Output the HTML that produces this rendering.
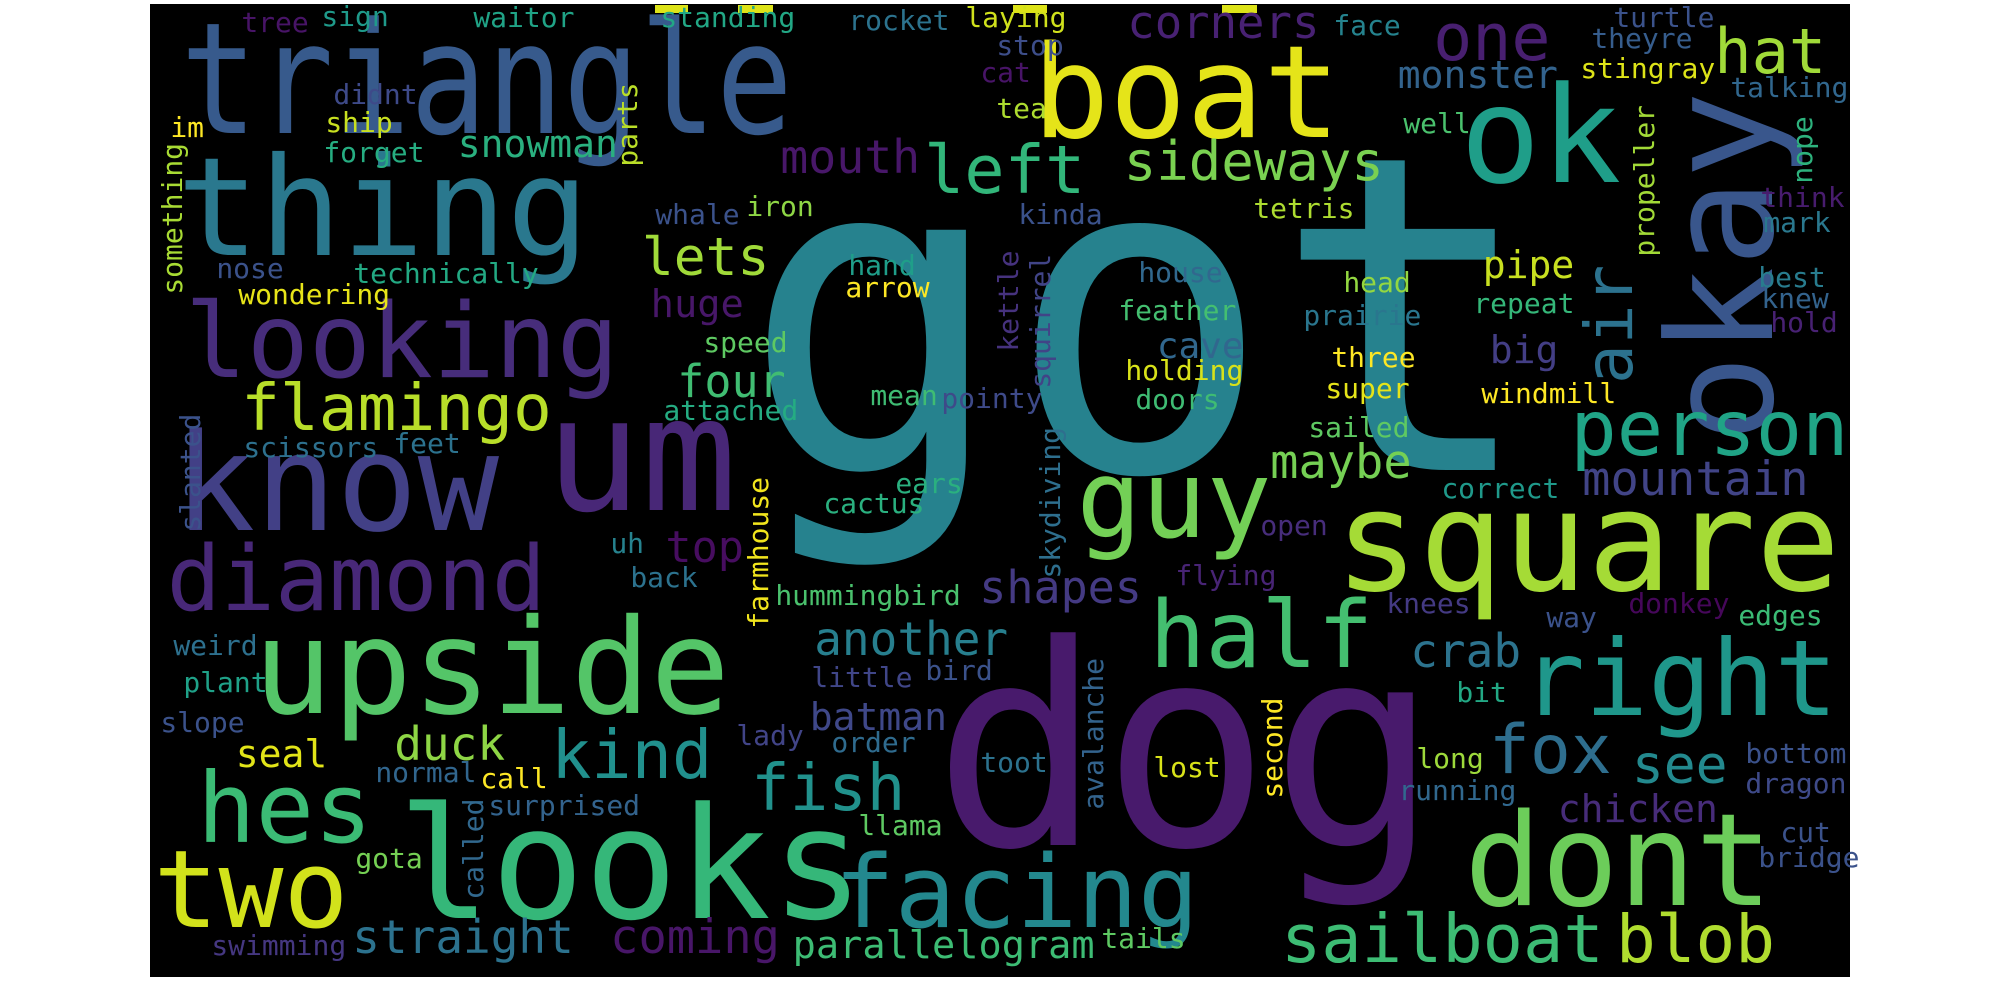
<!DOCTYPE html>
<html><head><meta charset="utf-8"><title>Word cloud</title>
<style>html,body{margin:0;padding:0;background:#fff;width:2000px;height:1000px;overflow:hidden}svg{display:block}text{font-family:"DejaVu Sans Mono","Liberation Mono",monospace}</style>
</head><body>
<svg id="cloud" width="2000" height="1000" viewBox="0 0 2000 1000" xmlns="http://www.w3.org/2000/svg">
<rect x="150" y="4" width="1700" height="973" fill="#000"/>
<g fill="#dde318">
<rect x="655" y="5" width="33" height="8"/><rect x="738" y="5" width="35" height="8"/><rect x="1013" y="5" width="34" height="8"/><rect x="1222" y="5" width="35" height="8"/>
</g>
<g id="words"></g>
</svg>
<script>
// [word, ink-left (or baseline x for vertical), baseline (or bottom y for vertical), font size, colour, vertical, textLength]
const words = [
["got",768,470,441,"#26828e"],
["dog",950,845,280,"#481a6c"],
["triangle",190,133,155,"#375a8c",0,612],
["boat",1040,137,128,"#e5e419"],
["ok",1468,182,134,"#1f9e89"],
["okay",1772,434,146,"#39568c",1],
["thing",185,255,137,"#2a788e"],
["looking",191,377,103,"#472d7b"],
["know",182,530,135,"#424086"],
["um",555,510,159,"#482777"],
["diamond",172,610,90,"#482878"],
["upside",261,713,132,"#54c568"],
["looks",407,918,155,"#35b779"],
["hes",203,842,97,"#3bbb75"],
["two",160,927,108,"#d2e21b"],
["square",1343,590,140,"#a5db36"],
["half",1155,667,93,"#44bf70"],
["right",1528,715,105,"#1f978b"],
["guy",1083,537,108,"#73d056"],
["dont",1472,905,128,"#6ccd5a"],
["facing",840,927,101,"#23888e"],
["person",1575,455,77,"#20a486"],
["air",1632,380,66,"#2c728e",1],
["sailboat",1285,962,67,"#3dbc74"],
["blob",1620,962,66,"#b0dd2f"],
["fox",1493,773,68,"#2e6e8e"],
["kind",555,778,67,"#21908d"],
["fish",755,810,64,"#21918c"],
["straight",355,953,46,"#2c728e"],
["coming",613,953,47,"#481668"],
["parallelogram",795,958,38.6,"#3dbc74"],
["flamingo",245,430,64.5,"#b8de29"],
["left",928,193,67,"#32b67a"],
["sideways",1127,180,54,"#7ad151"],
["hat",1718,73,62,"#a0da39"],
["one",1437,60,65,"#481f70"],
["corners",1130,38,45.6,"#482173"],
["mouth",783,173,46.5,"#481769"],
["lets",645,275,53,"#a0da39"],
["four",680,397,45,"#40bd72"],
["cave",1159,358,36,"#31678e"],
["pipe",1485,278,38,"#c8e020"],
["big",1492,363,38,"#433e85"],
["maybe",1273,478,47,"#75d054"],
["mountain",1585,495,47,"#414487"],
["top",668,562,43.5,"#470d60"],
["shapes",982,603,45,"#443a83"],
["another",817,655,46,"#277f8e"],
["batman",812,730,38,"#3f4889"],
["crab",1413,667,46,"#2c738e"],
["duck",397,760,46,"#8ed645"],
["seal",238,767,38,"#e2e418"],
["see",1635,783,53,"#23898e"],
["chicken",1560,822,38,"#472c7a"],
["monster",1400,88,38,"#33638d"],
["snowman",460,157,38,"#2ab07f"],
["face",1335,35,28,"#25838e"],
["standing",662,27,28,"#22a785"],
["rocket",850,30,28,"#2c738e"],
["laying",967,27,28,"#d0e11c"],
["waitor",475,27,28,"#20a386"],
["sign",323,26,28,"#1f9a8a"],
["tree",243,32,28,"#481467"],
["turtle",1615,27,28,"#3b528b"],
["theyre",1593,48,28,"#365d8d"],
["stop",998,55,28,"#3d4e8a"],
["cat",982,82,28,"#481467"],
["stingray",1582,78,28,"#dde318"],
["talking",1732,97,28,"#31678e"],
["tea",998,118,28,"#addc30"],
["well",1405,133,28,"#4ac16d"],
["parts",637,165,28,"#bade28",1],
["propeller",1654,255,28,"#a2da37",1],
["nope",1812,182,28,"#2db27d",1],
["think",1762,207,28,"#481c6e"],
["mark",1765,232,28,"#2a788e"],
["best",1760,287,28,"#287c8e"],
["knew",1763,308,28,"#33638d"],
["hold",1772,332,28,"#482173"],
["repeat",1475,313,28,"#35b779"],
["prairie",1305,325,28,"#2a768e"],
["head",1345,292,28,"#93d741"],
["three",1333,367,28,"#fde725"],
["super",1327,398,28,"#e5e419"],
["windmill",1483,403,28,"#fde725"],
["sailed",1310,437,28,"#5ec962"],
["correct",1443,498,28,"#1f998a"],
["open",1262,535,28,"#472d7b"],
["flying",1177,585,28,"#482475"],
["knees",1388,613,28,"#443a83"],
["way",1548,627,28,"#3b528b"],
["edges",1740,625,28,"#3bbb75"],
["donkey",1630,613,28,"#46075a"],
["bit",1458,702,28,"#22a884"],
["long",1418,768,28,"#9dd93b"],
["running",1400,800,28,"#31688e"],
["bottom",1747,763,28,"#3b528b"],
["dragon",1747,793,28,"#3e4a89"],
["cut",1782,842,28,"#3b528b"],
["bridge",1760,867,28,"#3b528b"],
["second",1282,797,28,"#fde725",1],
["lost",1155,777,28,"#d8e219"],
["toot",982,772,28,"#2c728e"],
["order",833,752,28,"#2f6b8e"],
["lady",738,745,28,"#414487"],
["normal",377,782,28,"#31668e"],
["call",482,788,28,"#fde725"],
["surprised",490,815,28,"#33638d"],
["called",483,898,28,"#31688e",1],
["gota",357,868,28,"#75d054"],
["llama",860,835,28,"#5ec962"],
["tails",1103,948,28,"#5ec962"],
["swimming",213,955,28,"#453781"],
["slope",162,732,28,"#3b528b"],
["plant",185,692,28,"#1fa188"],
["weird",175,655,28,"#2d708e"],
["little",813,687,28,"#404688"],
["bird",927,680,28,"#3b528b"],
["avalanche",1103,808,28,"#33638d",1],
["cactus",825,513,28,"#2ab07f"],
["ears",897,493,28,"#2ab07f"],
["hummingbird",777,605,28,"#4ac16d"],
["farmhouse",768,627,28,"#f1e51d",1],
["uh",612,553,28,"#26828e"],
["back",632,587,28,"#2c728e"],
["skydiving",1060,577,28,"#2e6f8e",1],
["pointy",943,408,28,"#3e4a89"],
["mean",872,405,28,"#3fbc73"],
["attached",665,420,28,"#25ac82"],
["speed",705,352,28,"#5ec962"],
["squirrel",1050,387,28,"#414487",1],
["kettle",1018,350,28,"#46327e",1],
["hand",850,275,28,"#1f9e89"],
["arrow",847,297,28,"#fde725"],
["house",1140,282,28,"#31688e"],
["feather",1120,320,28,"#44bf70"],
["holding",1127,380,28,"#d8e219"],
["doors",1137,409,28,"#3fbc73"],
["kinda",1020,224,28,"#3b528b"],
["tetris",1255,218,28,"#addc30"],
["iron",748,216,28,"#8ed645"],
["whale",657,224,28,"#3b528b"],
["huge",653,317,38.7,"#481769"],
["nose",218,278,28,"#3b528b"],
["technically",355,283,28,"#23a983"],
["wondering",240,304,28,"#e7e419"],
["something",182,293,28,"#a8db34",1],
["im",172,137,28,"#fde725"],
["ship",327,132,28,"#c8e020"],
["forget",325,162,28,"#26ad81"],
["didnt",335,104,28,"#3e4a89"],
["scissors",245,457,28,"#2d708e"],
["feet",395,453,28,"#2c728e"],
["slanted",200,530,28,"#3b528b",1]
];
const NS = "http://www.w3.org/2000/svg";
const g = document.getElementById("words");
for (const w of words) {
  const [txt, x, y, fs, col, vert, len] = w;
  const t = document.createElementNS(NS, "text");
  t.textContent = txt;
  t.setAttribute("font-size", fs);
  t.setAttribute("fill", col);
  if (vert) {
    t.setAttribute("x", 0);
    t.setAttribute("y", 0);
    t.setAttribute("transform", "translate(" + x + "," + (y + 0.06 * fs) + ") rotate(-90)");
  } else {
    t.setAttribute("x", x - 0.06 * fs);
    t.setAttribute("y", y);
  }
  if (len) {
    t.setAttribute("textLength", len);
    t.setAttribute("lengthAdjust", "spacingAndGlyphs");
  }
  
  
  g.appendChild(t);
}
</script>
</body></html>
